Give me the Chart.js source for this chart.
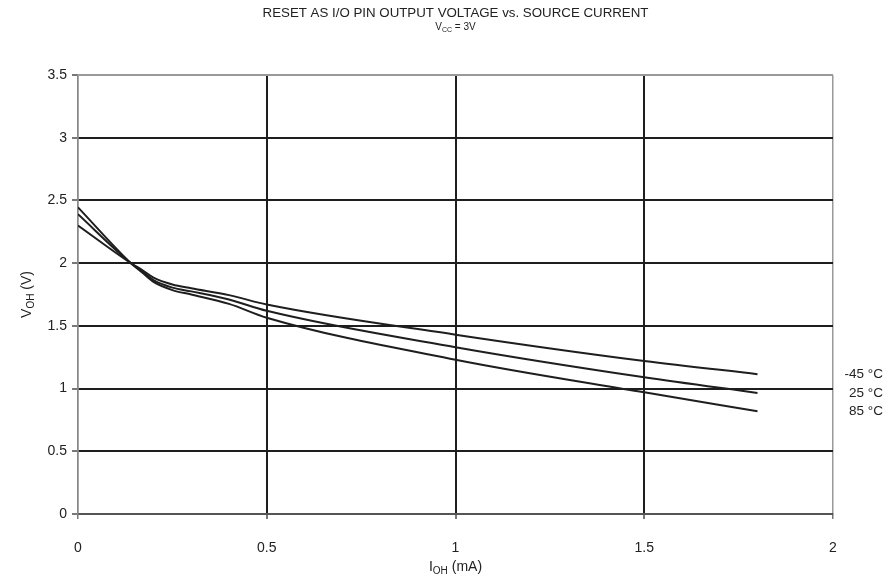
<!DOCTYPE html>
<html>
<head>
<meta charset="utf-8">
<script src="https://cdn.jsdelivr.net/npm/chart.js@4"></script>
<style>
  html, body { margin: 0; padding: 0; background: #fff; }
  #wrap { width: 890px; height: 585px; }
</style>
</head>
<body>
<div id="wrap"><canvas id="c" width="890" height="585"></canvas></div>
<script>
// Source current I_OH (mA)
const currents = [0, 0.14, 0.17, 0.2, 0.25, 0.3, 0.4, 0.5, 1.0, 1.5, 1.8];
// Output voltage V_OH (V) per temperature
const vMinus45 = [2.30, 2.00, 1.945, 1.885, 1.83, 1.80, 1.745, 1.67, 1.43, 1.22, 1.115];
const v25      = [2.39, 2.00, 1.935, 1.865, 1.805, 1.775, 1.71, 1.62, 1.33, 1.09, 0.965];
const v85      = [2.445, 2.00, 1.925, 1.85, 1.785, 1.75, 1.675, 1.565, 1.23, 0.97, 0.82];
const seriesLabels = ['-45 °C', '25 °C', '85 °C'];
const xTicks = [0, 0.5, 1, 1.5, 2];
const yTicks = [0, 0.5, 1, 1.5, 2, 2.5, 3, 3.5];

const FONT = '"Liberation Sans", Arial, Helvetica, sans-serif';

function pts(ys) { return currents.map((x, i) => ({ x: x, y: ys[i] })); }

const lineStyle = { borderColor: '#1e1e1e', borderWidth: 2, pointRadius: 0, fill: false, cubicInterpolationMode: 'monotone' };

function drawSub(ctx, parts, x, y, align) {
  let total = 0;
  parts.forEach(p => { ctx.font = (p.sub ? p.subSize : p.size) + 'px ' + FONT; total += ctx.measureText(p.t).width; });
  let cx = align === 'center' ? x - total / 2 : x;
  parts.forEach(p => {
    ctx.font = (p.sub ? p.subSize : p.size) + 'px ' + FONT;
    ctx.textAlign = 'left';
    ctx.textBaseline = 'middle';
    ctx.fillText(p.t, cx, y + (p.sub ? p.size * 0.3 : 0));
    cx += ctx.measureText(p.t).width;
  });
}

const annotate = {
  id: 'annotate',
  afterDraw(chart) {
    const ctx = chart.ctx;
    const a = chart.chartArea;
    const cx = (a.left + a.right) / 2;
    ctx.save();
    ctx.fillStyle = '#222';
    ctx.font = '13.3px ' + FONT;
    ctx.textAlign = 'center';
    ctx.textBaseline = 'middle';
    ctx.fillText('RESET AS I/O PIN OUTPUT VOLTAGE vs. SOURCE CURRENT', cx, 13);
    drawSub(ctx, [{t:'V', size:10, subSize:7}, {t:'CC', sub:true, size:10, subSize:7}, {t:' = 3V', size:10, subSize:7}], cx, 27, 'center');
    drawSub(ctx, [{t:'I', size:14, subSize:10}, {t:'OH', sub:true, size:14, subSize:10}, {t:' (mA)', size:14, subSize:10}], cx, 567, 'center');
    ctx.save();
    ctx.translate(27, (a.top + a.bottom) / 2);
    ctx.rotate(-Math.PI / 2);
    drawSub(ctx, [{t:'V', size:14, subSize:10}, {t:'OH', sub:true, size:14, subSize:10}, {t:' (V)', size:14, subSize:10}], 0, 0, 'center');
    ctx.restore();
    ctx.font = '13.5px ' + FONT;
    ctx.textAlign = 'right';
    ctx.textBaseline = 'middle';
    chart.data.datasets.forEach((ds, i) => {
      const meta = chart.getDatasetMeta(i);
      const last = meta.data[meta.data.length - 1];
      ctx.fillText(ds.label, a.right + 50, last.y);
    });
    ctx.restore();
  }
};

new Chart(document.getElementById('c'), {
  type: 'line',
  data: {
    datasets: [
      Object.assign({ label: seriesLabels[0], data: pts(vMinus45) }, lineStyle),
      Object.assign({ label: seriesLabels[1], data: pts(v25) }, lineStyle),
      Object.assign({ label: seriesLabels[2], data: pts(v85) }, lineStyle)
    ]
  },
  options: {
    responsive: false,
    animation: false,
    devicePixelRatio: 1,
    layout: { padding: { top: 75, right: 57, left: 0, bottom: 0 } },
    plugins: { legend: { display: false }, tooltip: { enabled: false }, title: { display: false } },
    scales: {
      x: {
        type: 'linear', min: 0, max: 2,
        afterBuildTicks: s => { s.ticks = xTicks.map(v => ({ value: v })); },
        afterFit: s => { s.height = 71; },
        border: { display: true, color: '#555', width: 2 },
        grid: {
          color: c => (c.tick && c.tick.value === 2) ? '#999' : (c.tick && c.tick.value === 0 ? '#888' : '#1e1e1e'),
          lineWidth: c => (c.tick && (c.tick.value === 2 || c.tick.value === 0)) ? 1.5 : 2,
          tickColor: '#777', tickLength: 5, drawTicks: true
        },
        ticks: { color: '#222', font: { family: FONT, size: 14 }, padding: 21, maxRotation: 0,
                 callback: v => String(v) }
      },
      y: {
        type: 'linear', min: 0, max: 3.5,
        afterBuildTicks: s => { s.ticks = yTicks.map(v => ({ value: v })); },
        afterFit: s => { s.width = 78; },
        border: { display: true, color: '#888', width: 1.5 },
        grid: {
          color: c => (c.tick && c.tick.value === 3.5) ? '#999' : (c.tick && c.tick.value === 0 ? '#555' : '#1e1e1e'),
          lineWidth: 2,
          tickColor: '#777', tickLength: 6, drawTicks: true
        },
        ticks: { color: '#222', font: { family: FONT, size: 14 }, padding: 5,
                 callback: v => String(v) }
      }
    }
  },
  plugins: [annotate]
});
</script>
</body>
</html>
